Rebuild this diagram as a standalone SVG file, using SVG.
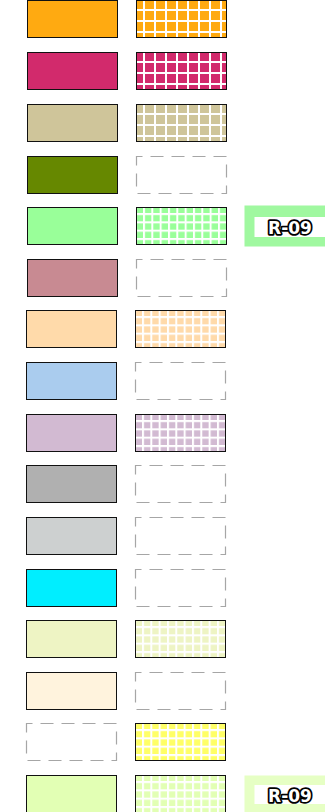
<svg xmlns="http://www.w3.org/2000/svg" width="325" height="812" viewBox="0 0 325 812">
<style>
.sw{stroke:#111;stroke-width:1}
.dash{fill:#fff;stroke:#a6a6a6;stroke-width:1.2;stroke-dasharray:13 8;stroke-dashoffset:7}
.lbl{font-family:"DejaVu Sans","Liberation Sans",sans-serif;font-weight:bold;font-size:17px;fill:#fff;stroke:#000;stroke-width:3.5;stroke-linejoin:round;paint-order:stroke;text-anchor:middle}
</style>
<defs>
<pattern id="g11o" patternUnits="userSpaceOnUse" x="7" y="9" width="11" height="11"><rect width="11" height="11" fill="#FFAA11"/><path d="M1 0V11M0 1H11" stroke="#fff" stroke-width="2"/></pattern>
<pattern id="g11p" patternUnits="userSpaceOnUse" x="7" y="9" width="11" height="11"><rect width="11" height="11" fill="#D22A6C"/><path d="M1 0V11M0 1H11" stroke="#fff" stroke-width="2"/></pattern>
<pattern id="g11b" patternUnits="userSpaceOnUse" x="7" y="9" width="11" height="11"><rect width="11" height="11" fill="#CFC59A"/><path d="M1 0V11M0 1H11" stroke="#fff" stroke-width="2"/></pattern>
<pattern id="g8g" patternUnits="userSpaceOnUse" x="7" y="6" width="8.33" height="8.33"><rect width="8.33" height="8.33" fill="#99FF99"/><path d="M1 0V8.33M0 1H8.33" stroke="#fff" stroke-width="2"/></pattern>
<pattern id="g8p" patternUnits="userSpaceOnUse" x="7" y="6" width="8.33" height="8.33"><rect width="8.33" height="8.33" fill="#FFDAAA"/><path d="M1 0V8.33M0 1H8.33" stroke="#fff" stroke-width="2"/></pattern>
<pattern id="g8v" patternUnits="userSpaceOnUse" x="7" y="6" width="8.33" height="8.33"><rect width="8.33" height="8.33" fill="#D2BAD2"/><path d="M1 0V8.33M0 1H8.33" stroke="#fff" stroke-width="2"/></pattern>
<pattern id="g8l" patternUnits="userSpaceOnUse" x="7" y="6" width="8.33" height="8.33"><rect width="8.33" height="8.33" fill="#EEF4C4"/><path d="M1 0V8.33M0 1H8.33" stroke="#fff" stroke-width="2"/></pattern>
<pattern id="g8y" patternUnits="userSpaceOnUse" x="7" y="6" width="8.33" height="8.33"><rect width="8.33" height="8.33" fill="#FFFF66"/><path d="M1 0V8.33M0 1H8.33" stroke="#fff" stroke-width="2"/></pattern>
<pattern id="g8k" patternUnits="userSpaceOnUse" x="7" y="6" width="8.33" height="8.33"><rect width="8.33" height="8.33" fill="#E2FFB4"/><path d="M1 0V8.33M0 1H8.33" stroke="#fff" stroke-width="2"/></pattern>
</defs>
<g id="connectors"/>
<g id="r1"><g transform="translate(27,0)"><rect x="0.5" y="0.5" width="90" height="37" fill="#FFAA11" class="sw"/></g><g transform="translate(136,0)"><rect x="0.5" y="0.5" width="90" height="37" fill="url(#g11o)" class="sw"/></g></g>
<g id="r2"><g transform="translate(27,52)"><rect x="0.5" y="0.5" width="90" height="37" fill="#D22A6C" class="sw"/></g><g transform="translate(136,52)"><rect x="0.5" y="0.5" width="90" height="37" fill="url(#g11p)" class="sw"/></g></g>
<g id="r3"><g transform="translate(27,104)"><rect x="0.5" y="0.5" width="90" height="37" fill="#CFC59A" class="sw"/></g><g transform="translate(136,104)"><rect x="0.5" y="0.5" width="90" height="37" fill="url(#g11b)" class="sw"/></g></g>
<g id="r4"><g transform="translate(27,156)"><rect x="0.5" y="0.5" width="90" height="37" fill="#668800" class="sw"/></g><g transform="translate(136,156)"><rect x="0.5" y="0.5" width="90" height="37" class="dash"/></g></g>
<g id="r5"><g transform="translate(27,207)"><rect x="0.5" y="0.5" width="90" height="37" fill="#99FF99" class="sw"/></g><g transform="translate(136,207)"><rect x="0.5" y="0.5" width="90" height="37" fill="url(#g8g)" class="sw"/></g></g>
<g id="r6"><g transform="translate(27,259)"><rect x="0.5" y="0.5" width="90" height="37" fill="#C88A92" class="sw"/></g><g transform="translate(136,259)"><rect x="0.5" y="0.5" width="90" height="37" class="dash"/></g></g>
<g id="r7"><g transform="translate(26,310)"><rect x="0.5" y="0.5" width="90" height="37" fill="#FFDAAA" class="sw"/></g><g transform="translate(135,310)"><rect x="0.5" y="0.5" width="90" height="37" fill="url(#g8p)" class="sw"/></g></g>
<g id="r8"><g transform="translate(26,362)"><rect x="0.5" y="0.5" width="90" height="37" fill="#AACCEE" class="sw"/></g><g transform="translate(135,362)"><rect x="0.5" y="0.5" width="90" height="37" class="dash"/></g></g>
<g id="r9"><g transform="translate(26,414)"><rect x="0.5" y="0.5" width="90" height="37" fill="#D2BAD2" class="sw"/></g><g transform="translate(135,414)"><rect x="0.5" y="0.5" width="90" height="37" fill="url(#g8v)" class="sw"/></g></g>
<g id="r10"><g transform="translate(26,465)"><rect x="0.5" y="0.5" width="90" height="37" fill="#B0B0B0" class="sw"/></g><g transform="translate(135,465)"><rect x="0.5" y="0.5" width="90" height="37" class="dash"/></g></g>
<g id="r11"><g transform="translate(26,517)"><rect x="0.5" y="0.5" width="90" height="37" fill="#CDD0D0" class="sw"/></g><g transform="translate(135,517)"><rect x="0.5" y="0.5" width="90" height="37" class="dash"/></g></g>
<g id="r12"><g transform="translate(26,569)"><rect x="0.5" y="0.5" width="90" height="37" fill="#00EEFF" class="sw"/></g><g transform="translate(135,569)"><rect x="0.5" y="0.5" width="90" height="37" class="dash"/></g></g>
<g id="r13"><g transform="translate(26,620)"><rect x="0.5" y="0.5" width="90" height="37" fill="#EEF4C4" class="sw"/></g><g transform="translate(135,620)"><rect x="0.5" y="0.5" width="90" height="37" fill="url(#g8l)" class="sw"/></g></g>
<g id="r14"><g transform="translate(26,672)"><rect x="0.5" y="0.5" width="90" height="37" fill="#FFF3DD" class="sw"/></g><g transform="translate(135,672)"><rect x="0.5" y="0.5" width="90" height="37" class="dash"/></g></g>
<g id="r15"><g transform="translate(26,723)"><rect x="0.5" y="0.5" width="90" height="37" class="dash"/></g><g transform="translate(135,723)"><rect x="0.5" y="0.5" width="90" height="37" fill="url(#g8y)" class="sw"/></g></g>
<g id="r16"><g transform="translate(26,775)"><rect x="0.5" y="0.5" width="90" height="37" fill="#E2FFB4" class="sw"/></g><g transform="translate(135,775)"><rect x="0.5" y="0.5" width="90" height="37" fill="url(#g8k)" class="sw"/></g></g>
<g id="label1"><rect x="244.5" y="205.5" width="90" height="41" fill="#A0F8A0"/><rect x="254.5" y="217" width="80" height="20" fill="#fff"/><text x="290" y="233.5" class="lbl">R-09</text></g>
<g id="label2"><rect x="244.5" y="775.5" width="90" height="41" fill="#E6FFC4"/><rect x="254.5" y="785" width="80" height="19" fill="#fff"/><text x="290" y="801.5" class="lbl">R-09</text></g>
</svg>
